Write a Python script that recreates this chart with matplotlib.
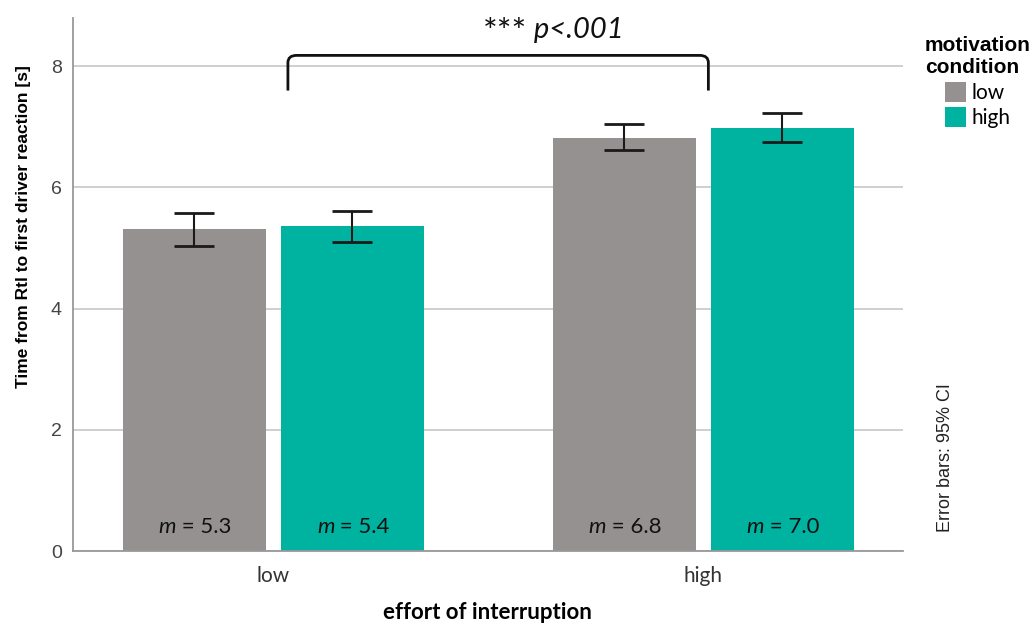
import matplotlib
matplotlib.use("Agg")
import matplotlib.pyplot as plt
import numpy as np
from matplotlib.path import Path
from matplotlib.patches import PathPatch, Patch

GREY, TEAL = "#959190", "#00B3A0"
plt.rcParams.update({"font.family": ["Liberation Sans", "DejaVu Sans"]})

# data
effort = ["low", "high"]
motivation = ["low", "high"]
means = {"low": [5.31, 6.82], "high": [5.36, 6.98]}
ci_low = {"low": [5.03, 6.62], "high": [5.10, 6.75]}
ci_high = {"low": [5.58, 7.05], "high": [5.61, 7.23]}
mean_labels = {"low": ["5.3", "6.8"], "high": ["5.4", "7.0"]}
colors = {"low": GREY, "high": TEAL}

fig = plt.figure(figsize=(10.32, 6.28), dpi=100)
ax = fig.add_axes([0.0707, 0.1226, 0.804, 0.849])

x = np.arange(len(effort))
width, offset = 0.333, 0.184
for i, mot in enumerate(motivation):
    pos = x + (2 * i - 1) * offset
    m = np.array(means[mot])
    ax.bar(pos, m, width, color=colors[mot], zorder=2)
    yerr = [m - np.array(ci_low[mot]), np.array(ci_high[mot]) - m]
    ax.errorbar(pos, m, yerr=yerr, fmt="none", ecolor="#1a1a1a",
                elinewidth=1.5, capsize=14.5, capthick=2, zorder=3)
    for p, lab in zip(pos, mean_labels[mot]):
        # italic "m" and the rest as two pieces, joined around a split point
        ax.annotate("m", (p, 0.4), xytext=(-13, 0), textcoords="offset points",
                    ha="right", va="center", fontsize=16, family="Lato",
                    style="italic", color="#111111", zorder=4)
        ax.annotate(f" = {lab}", (p, 0.4), xytext=(-13, 0),
                    textcoords="offset points", ha="left", va="center",
                    fontsize=16, family="Lato", color="#111111", zorder=4)

ax.set_xlim(-0.466, 1.464)
ax.set_ylim(0, 8.8)
ax.set_yticks([0, 2, 4, 6, 8])
ax.set_xticks(x)
ax.set_xticklabels(effort, family="Lato", fontsize=15)
ax.tick_params(axis="y", length=0, labelsize=14, labelcolor="#444444", pad=8)
ax.tick_params(axis="x", length=0, labelcolor="#333333", pad=11)
ax.grid(axis="y", color="#cccccc", linewidth=1.3, zorder=0)
for s in ["top", "right"]:
    ax.spines[s].set_visible(False)
for s in ["left", "bottom"]:
    ax.spines[s].set_color("#999999")
    ax.spines[s].set_linewidth(1.3)
ax.set_ylabel("Time from Rtl to first driver reaction [s]", fontsize=12.5,
              fontweight="bold")
ax.yaxis.set_label_coords(-0.051, 0.608)
ax.set_xlabel("effort of interruption", fontsize=16, fontweight="bold",
              labelpad=11, family="Lato")

# significance bracket
x0, x1, yb, yt, r = 0.034, 1.012, 7.6, 8.18, 0.02
verts = [(x0, yb), (x0, yt - 0.12), (x0, yt), (x0 + r, yt),
         (x1 - r, yt), (x1, yt), (x1, yt - 0.12), (x1, yb)]
codes = [Path.MOVETO, Path.LINETO, Path.CURVE3, Path.CURVE3,
         Path.LINETO, Path.CURVE3, Path.CURVE3, Path.LINETO]
ax.add_patch(PathPatch(Path(verts, codes), fill=False, lw=2, ec="#111111",
                       clip_on=False, zorder=4))
ax.annotate("***", (0.636, 8.6), xytext=(-14, -2), textcoords="offset points",
            ha="right", va="center", fontsize=25, family="Lato",
            color="#111111", annotation_clip=False)
ax.annotate(" p<.001", (0.636, 8.6), xytext=(-14, 0), textcoords="offset points",
            ha="left", va="center", fontsize=21, family="Lato", style="italic",
            color="#111111", annotation_clip=False)

handles = [Patch(facecolor=colors[m], label=m) for m in motivation]
leg = fig.legend(handles=handles, title="motivation\ncondition",
                 loc="upper left", bbox_to_anchor=(0.878, 0.972), frameon=False,
                 prop={"family": "Lato", "size": 15},
                 title_fontproperties={"weight": "bold", "size": 15},
                 handlelength=1.0, handleheight=1.1, handletextpad=0.25,
                 labelspacing=0.2)
leg._legend_box.align = "center"

fig.text(0.916, 0.272, "Error bars: 95% CI", rotation=90, ha="center",
         va="center", fontsize=13, color="#222222")

fig.savefig("out.png", dpi=100, facecolor="white")
